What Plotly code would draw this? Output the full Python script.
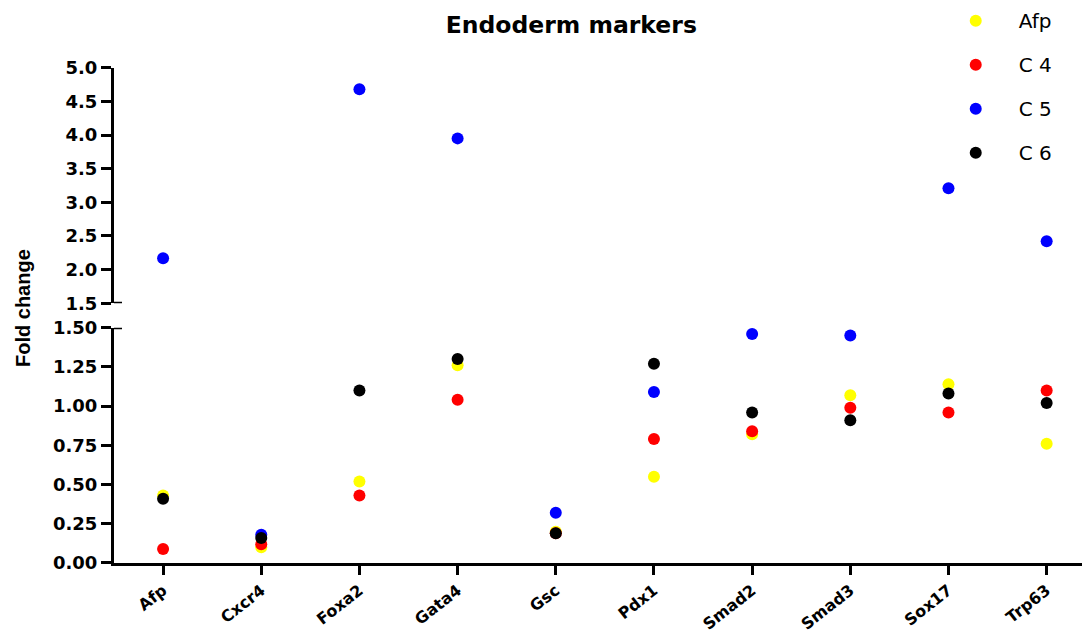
import plotly.graph_objects as go

# Endoderm marker fold changes per gene, one list per sample
genes = ["Afp", "Cxcr4", "Foxa2", "Gata4", "Gsc", "Pdx1", "Smad2", "Smad3", "Sox17", "Trp63"]
afp = [0.43, 0.10, 0.52, 1.26, 0.20, 0.55, 0.82, 1.07, 1.14, 0.76]
c4 = [0.09, 0.12, 0.43, 1.04, 0.19, 0.79, 0.84, 0.99, 0.96, 1.10]
c5 = [2.17, 0.18, 4.68, 3.95, 0.32, 1.09, 1.46, 1.45, 3.21, 2.42]
c6 = [0.41, 0.16, 1.10, 1.30, 0.19, 1.27, 0.96, 0.91, 1.08, 1.02]

series_names = ["Afp", "C 4", "C 5", "C 6"]
series_values = [afp, c4, c5, c6]
series_colors = ["#FFFF00", "#FF0000", "#0000FF", "#000000"]

# broken y axis: lower panel 0-1.5, upper panel 1.5-5.0
BREAK = 1.5
lower_ticks = [0.0, 0.25, 0.5, 0.75, 1.0, 1.25, 1.5]
upper_ticks = [1.5, 2.0, 2.5, 3.0, 3.5, 4.0, 4.5, 5.0]

fig = go.Figure()
for name, vals, color in zip(series_names, series_values, series_colors):
    low = [v if v < BREAK else None for v in vals]
    high = [v if v >= BREAK else None for v in vals]
    fig.add_trace(go.Scatter(
        x=genes, y=low, mode="markers", name=name, legendgroup=name,
        marker=dict(color=color, size=12, line=dict(width=0)),
        xaxis="x", yaxis="y", cliponaxis=False,
    ))
    fig.add_trace(go.Scatter(
        x=genes, y=high, mode="markers", name=name, legendgroup=name,
        showlegend=False,
        marker=dict(color=color, size=12, line=dict(width=0)),
        xaxis="x", yaxis="y2", cliponaxis=False,
    ))

tick_font = dict(family="DejaVu Sans", size=18, color="black", weight="bold")
axis_common = dict(
    showline=True, linewidth=3, linecolor="black",
    ticks="outside", tickwidth=3, tickcolor="black",
    showgrid=False, zeroline=False, tickfont=tick_font, automargin=False,
)

fig.update_layout(
    width=1082, height=637,
    margin=dict(l=114, r=0, t=60, b=74, autoexpand=False),
    paper_bgcolor="white", plot_bgcolor="white",
    title=dict(
        text="Endoderm markers", xref="container", yref="container",
        x=0.528, y=0.961, xanchor="center", yanchor="middle",
        font=dict(family="DejaVu Sans", size=23.5, color="black", weight="bold"),
    ),
    xaxis=dict(
        **{**axis_common, "tickfont": dict(tick_font, size=16)},
        ticklen=9, range=[-0.5, 9.36], tickangle=-38,
        anchor="y", type="category",
    ),
    yaxis=dict(
        **axis_common, ticklen=10, domain=[0, 0.4678], range=[0, 1.5],
        tickvals=lower_ticks, tickformat=".2f", anchor="x",
    ),
    yaxis2=dict(
        **axis_common, ticklen=10, domain=[0.5163, 0.9847], range=[1.5, 5.0],
        tickvals=upper_ticks, tickformat=".1f", anchor="x",
    ),
    legend=dict(
        x=0.8458, y=1.117, xanchor="left", yanchor="top",
        font=dict(family="DejaVu Sans", size=20, color="black"),
        itemwidth=76, tracegroupgap=15, bgcolor="rgba(0,0,0,0)",
    ),
    showlegend=True,
    annotations=[dict(
        text="Fold change", textangle=-90, xref="paper", yref="paper",
        x=-0.094, y=0.507, xanchor="center", yanchor="middle", showarrow=False,
        font=dict(family="Liberation Sans", size=20, color="black", weight="bold"),
    )],
    shapes=[
        dict(type="line", xref="paper", xsizemode="pixel", xanchor=0, x0=0, x1=8,
             yref="y", y0=BREAK, y1=BREAK, line=dict(color="black", width=3)),
        dict(type="line", xref="paper", xsizemode="pixel", xanchor=0, x0=0, x1=8,
             yref="y2", y0=BREAK, y1=BREAK, line=dict(color="black", width=3)),
    ],
)

fig.write_html("out.html")
